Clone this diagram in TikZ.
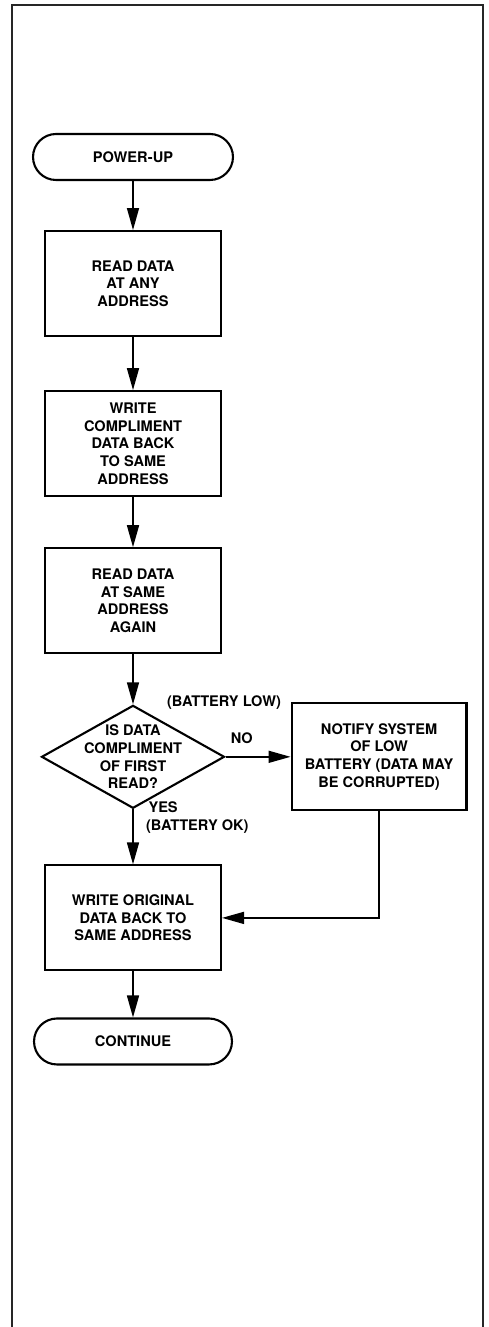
\documentclass[tikz,border=0pt]{standalone}
\usepackage{fontspec}
\setmainfont{TeX Gyre Heros}
\usetikzlibrary{shapes.geometric,positioning,arrows.meta}

\begin{document}
\begin{tikzpicture}[
    x=0.02cm, y=-0.02cm,
    node distance=1cm and 1.3cm,
    base/.style={draw=black, line width=1.2pt, align=center, font=\bfseries\fontsize{8.3}{10}\selectfont},
    termbox/.style={base, rectangle, rounded corners=0.46cm, minimum width=4cm, minimum height=0.92cm},
    stepbox/.style={base, rectangle, minimum width=3.52cm, minimum height=2.1cm},
    decbox/.style={base, diamond, inner sep=-12pt, minimum width=3.66cm, minimum height=2.06cm},
    lbl/.style={align=left, inner sep=1pt, font=\bfseries\fontsize{8.3}{10}\selectfont},
    arrow/.style={-{Triangle[length=0.44cm, width=0.24cm]}, line width=0.9pt}
]
    \useasboundingbox (0,0) rectangle (488,1327);

    % Frame
    \draw[line width=0.7pt, black!85] (12,1327) -- (12,5) -- (483,5) -- (483,1327);

    % Nodes
    \node[termbox] (powerup) at (133,157) {POWER-UP};
    \node[stepbox, below=0.98cm of powerup] (readany) {READ DATA\\AT ANY\\ADDRESS};
    \node[stepbox, below=1.06cm of readany] (writecomp) {WRITE\\COMPLIMENT\\DATA BACK\\TO SAME\\ADDRESS};
    \node[stepbox, below=1cm of writecomp] (readagain) {READ DATA\\AT SAME\\ADDRESS\\AGAIN};
    \node[decbox, below=1cm of readagain] (iscomp) {IS DATA\\COMPLIMENT\\OF FIRST\\READ?};
    \node[stepbox, right=1.3cm of iscomp, minimum width=3.5cm, minimum height=2.14cm] (notify) {NOTIFY SYSTEM\\OF LOW\\BATTERY (DATA MAY\\BE CORRUPTED)};
    \node[stepbox, below=1.1cm of iscomp] (writeorig) {WRITE ORIGINAL\\DATA BACK TO\\SAME ADDRESS};
    \node[termbox, below=0.92cm of writeorig, minimum width=3.96cm] (continue) {CONTINUE};

    % Labels
    \node[lbl] (batlow) at (224,703) {(BATTERY LOW)};
    \node[lbl, anchor=north west] (batok) at (144,800) {\,YES\\(BATTERY OK)};

    % Arrows
    \draw[arrow] (powerup) -- (readany);
    \draw[arrow] (readany) -- (writecomp);
    \draw[arrow] (writecomp) -- (readagain);
    \draw[arrow] (readagain) -- (iscomp);
    \draw[arrow] (iscomp) -- node[lbl, above=6pt, pos=0.25] {NO} (notify);
    \draw[arrow] (iscomp) -- (writeorig);
    \draw[arrow] (notify.south) |- (writeorig.east);
    \draw[arrow] (writeorig) -- (continue);

\end{tikzpicture}
\end{document}
